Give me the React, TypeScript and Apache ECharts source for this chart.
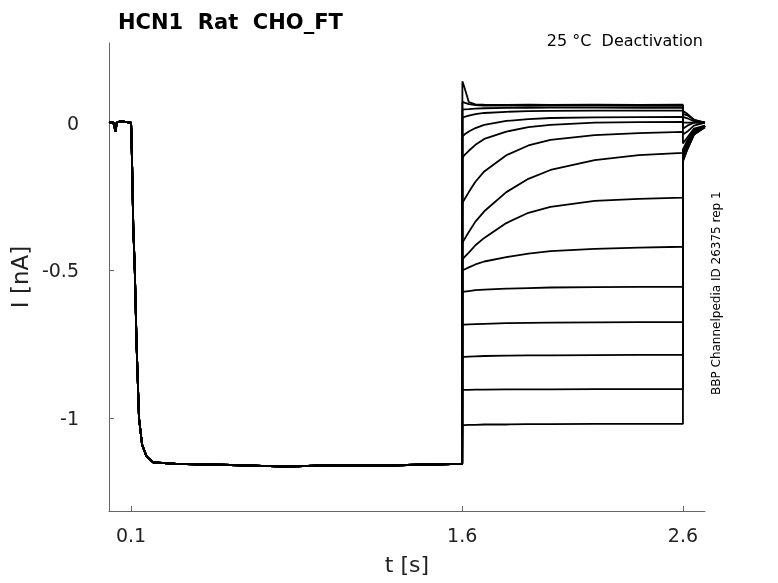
import { useEffect, useRef } from "react";
import * as echarts from "echarts";

// common part: holding, activation step down to ~ -1.16 nA
const preT = [0, 0.02, 0.03, 0.035, 0.05, 0.1, 0.101, 0.105, 0.11, 0.117, 0.125, 0.136, 0.15, 0.17, 0.2, 0.3, 0.6, 0.8, 1.0, 1.3, 1.6];
const preI = [0, 0, -0.03, 0, 0.005, 0, -0.02, -0.15, -0.35, -0.5, -0.75, -1.0, -1.09, -1.13, -1.15, -1.155, -1.16, -1.165, -1.16, -1.16, -1.155];

// deactivation test pulses, sampled at these times
const stepT = [1.601, 1.61, 1.63, 1.66, 1.7, 1.8, 1.9, 2.0, 2.2, 2.4, 2.6];
const traces = [
  [0.14, 0.12, 0.07, 0.062, 0.061, 0.06, 0.061, 0.06, 0.061, 0.06, 0.061],
  [0.071, 0.068, 0.063, 0.06, 0.058, 0.058, 0.057, 0.058, 0.058, 0.057, 0.058],
  [0.044, 0.045, 0.046, 0.048, 0.049, 0.05, 0.05, 0.051, 0.051, 0.05, 0.051],
  [0.017, 0.02, 0.024, 0.029, 0.033, 0.037, 0.039, 0.04, 0.041, 0.041, 0.041],
  [-0.047, -0.04, -0.03, -0.018, -0.007, 0.006, 0.012, 0.016, 0.018, 0.019, 0.02],
  [-0.119, -0.11, -0.095, -0.075, -0.055, -0.03, -0.015, -0.007, 0.0, 0.002, 0.003],
  [-0.271, -0.26, -0.235, -0.2, -0.165, -0.11, -0.077, -0.058, -0.042, -0.035, -0.031],
  [-0.407, -0.395, -0.37, -0.335, -0.3, -0.235, -0.19, -0.16, -0.127, -0.11, -0.102],
  [-0.464, -0.455, -0.44, -0.415, -0.39, -0.34, -0.305, -0.285, -0.265, -0.258, -0.254],
  [-0.5, -0.497, -0.49, -0.48, -0.47, -0.455, -0.443, -0.435, -0.427, -0.423, -0.42],
  [-0.573, -0.572, -0.57, -0.567, -0.565, -0.562, -0.56, -0.558, -0.557, -0.556, -0.556],
  [-0.685, -0.684, -0.683, -0.682, -0.681, -0.679, -0.678, -0.677, -0.676, -0.675, -0.675],
  [-0.793, -0.793, -0.792, -0.791, -0.79, -0.789, -0.788, -0.788, -0.787, -0.786, -0.786],
  [-0.905, -0.905, -0.905, -0.904, -0.904, -0.903, -0.903, -0.903, -0.902, -0.902, -0.902],
  [-1.024, -1.024, -1.023, -1.023, -1.022, -1.022, -1.021, -1.021, -1.02, -1.02, -1.02],
];
// return to holding after 2.6 s
const tailT = [2.6, 2.62, 2.65, 2.7];
const tails = [
  [0.04, 0.03, 0.01, 0.0],
  [0.03, 0.025, 0.01, 0.0],
  [0.02, 0.015, 0.005, 0.0],
  [0.0, 0.0, 0.0, 0.0],
  [-0.02, -0.01, 0.0, 0.0],
  [-0.04, -0.03, -0.01, 0.0],
  [-0.07, -0.05, -0.02, -0.01],
  [-0.1, -0.07, -0.03, -0.01],
  [-0.12, -0.08, -0.04, -0.01],
  [-0.13, -0.09, -0.04, -0.015],
  [-0.13, -0.09, -0.04, -0.015],
  [-0.12, -0.085, -0.035, -0.01],
  [-0.11, -0.08, -0.03, -0.01],
  [-0.1, -0.07, -0.03, -0.01],
  [-0.09, -0.06, -0.025, -0.01],
];

const xTicks = [0.1, 1.6, 2.6];
const yTicks = [-1, -0.5, 0];

export default function App() {
  const ref = useRef<HTMLDivElement>(null);

  useEffect(() => {
    if (!ref.current) return;
    const chart = echarts.init(ref.current, undefined, { renderer: "svg" });
    const pre = preT.map((t, i) => [t, preI[i]]);
    const series = traces.map((tr, k) => ({
      type: "line",
      showSymbol: false,
      silent: true,
      lineStyle: { color: "#000", width: 1.8 },
      data: [
        ...pre,
        ...stepT.map((t, i) => [t, tr[i]]),
        ...tailT.map((t, i) => [t, tails[k][i]]),
      ],
    }));
    const axisCol = "#666";
    chart.setOption({
      animation: false,
      textStyle: { fontFamily: "DejaVu Sans" },
      title: {
        text: "HCN1  Rat  CHO_FT",
        left: 113,
        top: 6,
        textStyle: { fontSize: 21, fontWeight: "bold", color: "#000" },
      },
      grid: { left: 101, right: 73, top: 43, bottom: 72 },
      xAxis: {
        type: "value",
        min: 0,
        max: 2.7,
        name: "t [s]",
        nameLocation: "middle",
        nameGap: 42,
        nameTextStyle: { fontSize: 22, color: "#222" },
        axisLine: { onZero: false, lineStyle: { color: axisCol } },
        axisTick: { inside: true, length: 5, customValues: xTicks, lineStyle: { color: axisCol } },
        axisLabel: { customValues: xTicks, fontSize: 19, color: "#222", margin: 14 },
        splitLine: { show: false },
      },
      yAxis: {
        type: "value",
        min: -1.315,
        max: 0.27,
        name: "I [nA]",
        nameLocation: "middle",
        nameGap: 62,
        nameTextStyle: { fontSize: 23, color: "#222" },
        axisLine: { show: true, onZero: false, lineStyle: { color: axisCol } },
        axisTick: { show: true, inside: true, length: 5, customValues: yTicks, lineStyle: { color: axisCol } },
        axisLabel: { customValues: yTicks, fontSize: 19, color: "#222", margin: 30 },
        splitLine: { show: false },
      },
      graphic: [
        { type: "text", right: 75, top: 32, style: { text: "25 °C  Deactivation", fontSize: 16, fill: "#000", fontFamily: "DejaVu Sans" } },
        {
          type: "text",
          x: 710,
          y: 395,
          rotation: Math.PI / 2,
          style: { text: "BBP Channelpedia ID 26375 rep 1", fontSize: 12, fill: "#000", fontFamily: "DejaVu Sans" },
        },
      ],
      series,
    });
    return () => chart.dispose();
  }, []);

  return <div ref={ref} style={{ position: "fixed", left: 0, top: 0, width: 778, height: 583 }} />;
}
